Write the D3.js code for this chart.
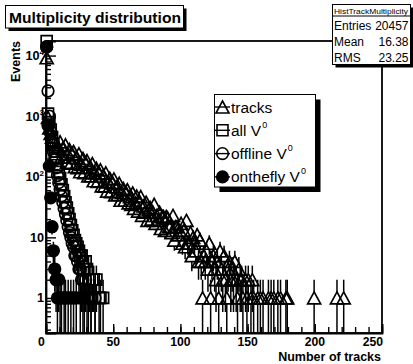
<!DOCTYPE html>
<html><head><meta charset="utf-8">
<script src="https://cdn.jsdelivr.net/npm/d3@7"></script>
<style>
html,body{margin:0;padding:0;background:#fff;}
svg{display:block;font-family:"Liberation Sans",Arial,Helvetica,sans-serif;}
</style></head><body>
<svg id="c" width="413" height="364"></svg>
<script>
// Per-bin event counts, bin i covers [i, i+1) tracks / V0s
const tracks = [
  9200, 950, 640, 520, 450, 400, 370, 340, 320, 300,
  377, 211, 295, 210, 336, 173, 236, 281, 167, 239,
  261, 147, 207, 142, 239, 121, 161, 200, 117, 170,
  185, 103, 144, 104, 165, 86, 116, 138, 84, 116,
  130, 71, 103, 70, 116, 58, 82, 94, 57, 81,
  92, 50, 68, 51, 78, 41, 55, 64, 41, 55,
  61, 37, 47, 35, 54, 30, 37, 48, 27, 38,
  47, 23, 33, 26, 38, 19, 29, 31, 20, 26,
  35, 17, 23, 19, 26, 14, 22, 22, 13, 22,
  21, 15, 15, 12, 23, 9, 15, 15, 11, 13,
  17, 8, 13, 7, 19, 8, 8, 12, 5, 10,
  8, 6, 11, 4, 9, 4, 1, 5, 4, 6,
  3, 8, 1, 4, 5, 3, 2, 4, 1, 6,
  3, 2, 5, 2, 1, 3, 4, 2, 3, 2,
  4, 2, 1, 3, 2, 2, 1, 0, 2, 1,
  2, 0, 1, 2, 1, 0, 0, 1, 0, 1,
  0, 1, 0, 0, 0, 1, 0, 1, 0, 1,
  0, 0, 1, 0, 1, 0, 0, 0, 1, 1,
  0, 0, 0, 0, 0, 0, 0, 0, 0, 0,
  0, 0, 0, 0, 0, 0, 0, 0, 0, 1,
  0, 0, 0, 0, 0, 0, 0, 0, 0, 0,
  0, 0, 0, 0, 0, 0, 1, 0, 0, 0,
  0, 1
];
const allV0 = [
  17300, 1100, 800, 600, 450, 340, 260, 200, 155, 120,
  95, 75, 60, 48, 38, 31, 25, 20, 16, 13,
  11, 9, 8, 7, 6, 5, 5, 4, 3, 4,
  3, 2, 2, 1, 2, 2, 1, 2, 0, 1,
  1, 0, 1
];
const offlineV0 = [
  13900, 2600, 1000, 560, 380, 260, 190, 140, 105, 80,
  62, 48, 38, 30, 24, 19, 15, 12, 10, 8,
  7, 5, 5, 4, 3, 3, 2, 2, 1, 2,
  1, 1, 0, 1, 0, 0, 1
];
const ontheflyV0 = [
  14000, 700, 150, 45, 15, 6, 3, 2, 1, 2,
  1, 1, 0, 1, 1, 0, 1, 0, 1, 0,
  1, 0, 1, 0, 0, 1, 0, 1
];

const xTicks = [0, 50, 100, 150, 200, 250];
const yTicks = [1, 10, 100, 1000, 10000];
const legendLabels = ["tracks", "all V", "offline V", "onthefly V"];
const statsTitle = "HistTrackMultiplicity";
const statsLabels = ["Entries", "Mean", "RMS"];
const statsValues = ["20457", "16.38", "23.25"];

const svg = d3.select("#c");
const frame = {l: 46, r: 382, t: 41, b: 333};
const x = d3.scaleLinear().domain([0, 250]).range([frame.l, frame.r]);
const y = d3.scaleLog().domain([0.264, 17400]).range([frame.b, frame.t]);

svg.append("rect").attr("width", 413).attr("height", 364).attr("fill", "#fff");

// marker shapes (ROOT styles 26, 25, 24, 20)
const markers = {
  tri:  {d: "M0,-6L6.5,6L-6.5,6Z", fill: "none", half: 6},
  sq:   {d: "M-5.5,-5.5H5.5V5.5H-5.5Z", fill: "none", half: 5.5},
  circ: {d: "M5.8,0A5.8,5.8 0 1 1 -5.8,0A5.8,5.8 0 1 1 5.8,0Z", fill: "none", half: 5.8},
  dot:  {d: "M5.8,0A5.8,5.8 0 1 1 -5.8,0A5.8,5.8 0 1 1 5.8,0Z", fill: "#000", half: 5.8}
};
const series = [
  {counts: tracks, m: markers.tri},
  {counts: allV0, m: markers.sq},
  {counts: offlineV0, m: markers.circ},
  {counts: ontheflyV0, m: markers.dot}
];

const [yMin, yMax] = y.domain();
const yc = v => y(Math.max(yMin, Math.min(yMax, v)));
const plot = svg.append("g");

series.forEach(s => {
  const pts = s.counts.map((c, i) => ({bin: i, c})).filter(p => p.c > 0);
  const g = plot.append("g");
  // vertical error bars, leaving the marker area free
  pts.forEach(p => {
    const cx = x(p.bin + 0.5), cy = y(p.c);
    const e = Math.sqrt(p.c);
    const top = yc(p.c + e), bot = yc(p.c - e);
    const gap = s.m.half;
    if (cy - gap > top) g.append("line").attr("x1", cx).attr("x2", cx)
      .attr("y1", top).attr("y2", cy - gap).attr("stroke", "#000").attr("stroke-width", 1.5);
    if (cy + gap < bot) g.append("line").attr("x1", cx).attr("x2", cx)
      .attr("y1", cy + gap).attr("y2", bot).attr("stroke", "#000").attr("stroke-width", 1.5);
  });
  g.selectAll("path").data(pts).join("path")
    .attr("d", s.m.d)
    .attr("transform", p => `translate(${x(p.bin + 0.5)},${y(p.c)})`)
    .attr("fill", s.m.fill)
    .attr("stroke", "#000").attr("stroke-width", 1.7);
});

// frame
svg.append("rect").attr("x", frame.l).attr("y", frame.t)
  .attr("width", frame.r - frame.l).attr("height", frame.b - frame.t)
  .attr("fill", "none").attr("stroke", "#000").attr("stroke-width", 1.8);

// x axis ticks (pointing into the frame)
const xMinor = d3.range(0, 251, 10);
svg.append("g").attr("transform", `translate(0,${frame.b})`)
  .call(d3.axisBottom(x).tickValues(xMinor).tickSize(-6).tickFormat(""))
  .call(g => g.select(".domain").remove())
  .call(g => g.selectAll("line").attr("stroke-width", 1.4));
svg.append("g").attr("transform", `translate(0,${frame.b})`)
  .call(d3.axisBottom(x).tickValues(xTicks).tickSize(-9).tickFormat(""))
  .call(g => g.select(".domain").attr("stroke-width", 1.8))
  .call(g => g.selectAll("line").attr("stroke-width", 1.4));

xTicks.forEach(t => {
  let px = x(t), anchor = "middle";
  if (t === 0) px -= 4.5;
  if (t === 250) { px += 1; anchor = "end"; }
  svg.append("text").attr("x", px).attr("y", 346).attr("text-anchor", anchor)
    .attr("font-size", 12.2).attr("font-weight", "bold").text(t);
});

// y axis ticks (log)
const yMinor = [];
[0.1, 1, 10, 100, 1000, 10000].forEach(d => {
  for (let k = 2; k <= 9; k++) { const v = d * k; if (v >= yMin && v <= yMax) yMinor.push(v); }
});
svg.append("g").attr("transform", `translate(${frame.l},0)`)
  .call(d3.axisLeft(y).tickValues(yMinor).tickSize(-5).tickFormat(""))
  .call(g => g.select(".domain").remove())
  .call(g => g.selectAll("line").attr("stroke-width", 1.4));
svg.append("g").attr("transform", `translate(${frame.l},0)`)
  .call(d3.axisLeft(y).tickValues(yTicks).tickSize(-10).tickFormat(""))
  .call(g => g.select(".domain").attr("stroke-width", 1.8))
  .call(g => g.selectAll("line").attr("stroke-width", 1.4));

yTicks.forEach(t => {
  const exp = Math.round(Math.log10(t));
  const tx = svg.append("text").attr("x", 44).attr("y", y(t) + 4.5)
    .attr("text-anchor", "end").attr("font-size", 12.7).attr("font-weight", "bold");
  if (exp <= 1) tx.text(t);
  else {
    tx.append("tspan").text("10");
    tx.append("tspan").attr("font-size", 8).attr("dy", -5.5).text(exp);
  }
});

// axis titles
svg.append("text").attr("x", 381).attr("y", 361).attr("text-anchor", "end")
  .attr("font-size", 12.5).attr("font-weight", "bold").text("Number of tracks");
svg.append("text").attr("transform", `translate(19.5,${frame.t}) rotate(-90)`)
  .attr("text-anchor", "end").attr("font-size", 12.5).attr("font-weight", "bold").text("Events");

// boxes with a drop shadow
function shadowBox(x0, y0, w, h, sh) {
  svg.append("rect").attr("x", x0 + sh).attr("y", y0 + sh).attr("width", w).attr("height", h).attr("fill", "#000");
  svg.append("rect").attr("x", x0).attr("y", y0).attr("width", w).attr("height", h)
    .attr("fill", "#fff").attr("stroke", "#000").attr("stroke-width", 1);
}
shadowBox(5.5, 5.5, 178, 22.5, 3);
svg.append("text").attr("x", 9).attr("y", 23).attr("font-size", 15).attr("font-weight", "bold")
  .attr("textLength", 172).attr("lengthAdjust", "spacingAndGlyphs").text("Multiplicity distribution");

// statistics box
shadowBox(332.5, 4.5, 78, 60, 3);
svg.append("line").attr("x1", 332.5).attr("x2", 410.5).attr("y1", 16).attr("y2", 16).attr("stroke", "#000");
svg.append("text").attr("x", 334).attr("y", 13.5).attr("font-size", 8)
  .attr("textLength", 74).attr("lengthAdjust", "spacingAndGlyphs").text(statsTitle);
statsLabels.forEach((lab, i) => {
  const by = 29.5 + i * 16.3;
  svg.append("text").attr("x", 334).attr("y", by).attr("font-size", 12).text(lab);
  svg.append("text").attr("x", 408.5).attr("y", by).attr("text-anchor", "end").attr("font-size", 12).text(statsValues[i]);
});

// legend
shadowBox(214.5, 94.5, 101, 92.5, 5);
legendLabels.forEach((lab, i) => {
  const cy = 107 + i * 23.3;
  const s = series[i];
  svg.append("line").attr("x1", 215).attr("x2", 230).attr("y1", cy).attr("y2", cy)
    .attr("stroke", "#000").attr("stroke-width", 1.4);
  svg.append("path").attr("d", s.m.d).attr("transform", `translate(222.5,${cy})`)
    .attr("fill", s.m.fill === "none" ? "none" : "#000").attr("stroke", "#000").attr("stroke-width", 1.6);
  const t = svg.append("text").attr("x", 231).attr("y", cy + 5.5).attr("font-size", 15.5);
  t.append("tspan").text(lab);
  if (i > 0) t.append("tspan").attr("font-size", 9).attr("dy", -8).attr("dx", 1).text("0");
});
</script>
</body></html>
